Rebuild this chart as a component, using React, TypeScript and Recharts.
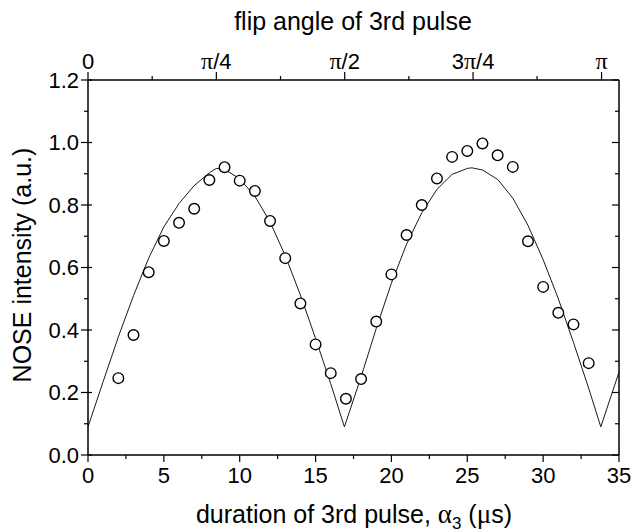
import { ComposedChart, Line, Scatter, XAxis, YAxis, Label } from "recharts";

// measured points: duration of 3rd pulse (µs) vs NOSE intensity
const durations = [2, 3, 4, 5, 6, 7, 8, 9, 10, 11, 12, 13, 14, 15, 16, 17, 18, 19, 20, 21, 22, 23, 24, 25, 26, 27, 28, 29, 30, 31, 32, 33];
const intensity = [
  0.246, 0.384, 0.585, 0.685, 0.743, 0.788, 0.88, 0.921, 0.878, 0.845, 0.749, 0.63, 0.485, 0.354, 0.262, 0.18,
  0.243, 0.427, 0.578, 0.704, 0.8, 0.885, 0.954, 0.973, 0.997, 0.959, 0.922, 0.684, 0.538, 0.455, 0.418, 0.294,
];

// fitted curve
const fitX = [0, 1, 2, 3, 4, 5, 6, 7, 8, 8.45, 9, 10, 11, 12, 13, 14, 15, 16, 16.9, 18, 19, 20, 21, 22, 23, 24, 25, 25.3, 26, 27, 28, 29, 30, 31, 32, 33, 33.8, 35];
const fitY = [
  0.09, 0.235, 0.378, 0.51, 0.63, 0.73, 0.805, 0.862, 0.903, 0.917, 0.914, 0.884, 0.828, 0.746, 0.638, 0.512, 0.373, 0.228, 0.09,
  0.25, 0.405, 0.55, 0.675, 0.775, 0.85, 0.898, 0.917, 0.919, 0.912, 0.882, 0.822, 0.735, 0.625, 0.5, 0.36, 0.214, 0.09, 0.265,
];

const bottomTicks = [0, 2.5, 5, 7.5, 10, 12.5, 15, 17.5, 20, 22.5, 25, 27.5, 30, 32.5, 35];
const yTicks = [0, 0.1, 0.2, 0.3, 0.4, 0.5, 0.6, 0.7, 0.8, 0.9, 1, 1.1, 1.2];
const topTicks = [0, 4.23, 8.46, 12.69, 16.92, 21.15, 25.38, 29.6, 33.85];
const topLabels = ["0", "", "π/4", "", "π/2", "", "3π/4", "", "π"];

const points = durations.map((x, i) => ({ x, y: intensity[i] }));
const fit = fitX.map((x, i) => ({ x, y: fitY[i] }));

const FONT = "'Liberation Sans', Arial, sans-serif";
const SERIF = "'Liberation Serif', 'Times New Roman', serif";
const axisLine = { stroke: "#000", strokeWidth: 1.5 };

function BottomTick({ x, y, payload }: any) {
  const major = payload.value % 5 === 0;
  return (
    <g>
      <line x1={x} x2={x} y1={y} y2={y + (major ? 7 : 4)} stroke="#000" strokeWidth={1.2} />
      {major && (
        <text x={x} y={y + 28} textAnchor="middle" fontSize={22} fontFamily={FONT} fill="#000">
          {payload.value}
        </text>
      )}
    </g>
  );
}

function LeftTick({ x, y, payload }: any) {
  const major = Math.round(payload.value * 10) % 2 === 0;
  return (
    <g>
      <line x1={major ? x - 7 : x - 4} x2={major ? x + 4 : x} y1={y} y2={y} stroke="#000" strokeWidth={1.2} />
      {major && (
        <text x={x - 9} y={y} dy="0.36em" textAnchor="end" fontSize={22} fontFamily={FONT} fill="#000">
          {payload.value.toFixed(1)}
        </text>
      )}
    </g>
  );
}

function RightTick({ x, y, payload }: any) {
  const major = Math.round(payload.value * 10) % 2 === 0;
  return <line x1={x} x2={x - (major ? 7 : 4)} y1={y} y2={y} stroke="#000" strokeWidth={1.2} />;
}

function TopTick({ x, y, index }: any) {
  const label = topLabels[index] ?? "";
  const major = label !== "";
  return (
    <g>
      <line x1={x} x2={x} y1={y} y2={y - (major ? 8 : 4)} stroke="#000" strokeWidth={1.2} />
      {major && (
        <text x={x} y={y - 11} textAnchor="middle" fontSize={22} fontFamily={FONT} fill="#000">
          {label.split("π").map((part: string, i: number, arr: string[]) => (
            <tspan key={i}>
              {part}
              {i < arr.length - 1 && <tspan fontFamily={SERIF} fontSize={24}>π</tspan>}
            </tspan>
          ))}
        </text>
      )}
    </g>
  );
}

function Circle({ cx, cy }: any) {
  return <circle cx={cx} cy={cy} r={5.3} fill="#fff" stroke="#000" strokeWidth={1.4} />;
}

export default function App() {
  return (
    <div style={{ position: "absolute", left: 0, top: 0, width: 633, height: 532, background: "#fff" }}>
      <ComposedChart width={633} height={532} margin={{ top: 0, right: 0, bottom: 0, left: 0 }}>
        <XAxis
          xAxisId="bottom"
          dataKey="x"
          type="number"
          domain={[0, 35]}
          ticks={bottomTicks}
          interval={0}
          height={77}
          tickSize={0}
          tickMargin={0}
          axisLine={axisLine}
          tick={<BottomTick />}
          allowDataOverflow
        >
          <Label
            content={() => (
              <text x={354} y={523} textAnchor="middle" fontSize={25} fontFamily={FONT} fill="#000">
                duration of 3rd pulse, <tspan fontFamily={SERIF} fontSize={27}>α</tspan>
                <tspan fontSize={17} dy={6}>3</tspan>
                <tspan dy={-6}> (</tspan>
                <tspan fontFamily={SERIF} fontSize={27}>μ</tspan>s)
              </text>
            )}
          />
        </XAxis>
        <XAxis
          xAxisId="top"
          orientation="top"
          dataKey="x"
          type="number"
          domain={[0, 35]}
          ticks={topTicks}
          interval={0}
          height={80}
          tickSize={0}
          tickMargin={0}
          axisLine={axisLine}
          tick={<TopTick />}
          allowDataOverflow
        >
          <Label
            content={() => (
              <text x={353} y={30} textAnchor="middle" fontSize={25} fontFamily={FONT} fill="#000">
                flip angle of 3rd pulse
              </text>
            )}
          />
        </XAxis>
        <YAxis
          yAxisId="left"
          type="number"
          domain={[0, 1.2]}
          ticks={yTicks}
          interval={0}
          width={88}
          tickSize={0}
          tickMargin={0}
          axisLine={axisLine}
          tick={<LeftTick />}
          allowDataOverflow
        >
          <Label
            content={() => (
              <text
                x={31}
                y={265}
                transform="rotate(-90 31 265)"
                textAnchor="middle"
                fontSize={25}
                fontFamily={FONT}
                fill="#000"
              >
                NOSE intensity (a.u.)
              </text>
            )}
          />
        </YAxis>
        <YAxis
          yAxisId="right"
          orientation="right"
          type="number"
          domain={[0, 1.2]}
          ticks={yTicks}
          interval={0}
          width={14}
          tickSize={0}
          tickMargin={0}
          axisLine={axisLine}
          tick={<RightTick />}
          allowDataOverflow
        />
        <Line
          data={fit}
          dataKey="y"
          xAxisId="bottom"
          yAxisId="left"
          type="linear"
          dot={false}
          stroke="#1a1a1a"
          strokeWidth={1}
          isAnimationActive={false}
        />
        <Scatter
          data={points}
          dataKey="y"
          xAxisId="bottom"
          yAxisId="left"
          shape={<Circle />}
          isAnimationActive={false}
        />
      </ComposedChart>
    </div>
  );
}
